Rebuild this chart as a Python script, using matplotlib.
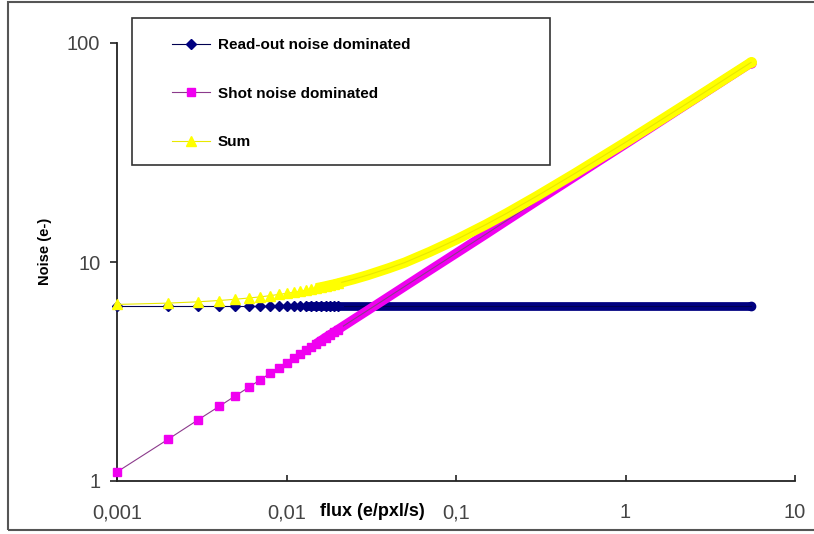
import matplotlib.pyplot as plt
from matplotlib.patches import Rectangle

# flux grid (e/pxl/s) and noise values (e-)
flux = [0.001, 0.002, 0.003, 0.004, 0.005, 0.006, 0.007, 0.008, 0.009, 0.010,
        0.011, 0.012, 0.013, 0.014, 0.015, 0.016, 0.017, 0.018, 0.019, 0.020,
        0.025, 0.03, 0.04, 0.05, 0.07, 0.1, 0.15, 0.2, 0.3, 0.5, 0.7,
        1, 1.5, 2, 3, 4, 5.5]
readout = [6.3] * len(flux)
shot = [1.10, 1.55, 1.90, 2.19, 2.45, 2.68, 2.90, 3.10, 3.29, 3.46,
        3.63, 3.79, 3.95, 4.10, 4.24, 4.38, 4.52, 4.65, 4.77, 4.90,
        5.48, 6.0, 6.93, 7.75, 9.17, 10.95, 13.4, 15.5, 19.0, 24.5, 29.0,
        34.6, 42.4, 49.0, 60.0, 69.3, 81.2]
total = [6.40, 6.49, 6.58, 6.67, 6.76, 6.85, 6.93, 7.02, 7.11, 7.19,
         7.27, 7.35, 7.44, 7.52, 7.60, 7.67, 7.75, 7.83, 7.90, 7.98,
         8.35, 8.70, 9.36, 9.95, 11.12, 12.64, 14.82, 16.72, 20.0, 25.3, 29.7,
         35.2, 42.9, 49.4, 60.3, 69.6, 81.5]

xticks = [0.001, 0.01, 0.1, 1, 10]
xlabels = ["0,001", "0,01", "0,1", "1", "10"]
yticks = [1, 10, 100]
ylabels = ["1", "10", "100"]

W, H = 814, 534
fig = plt.figure(figsize=(W / 100, H / 100), dpi=100)
ax = fig.add_axes([117 / W, 1 - 481 / H, (795 - 117) / W, (481 - 43) / H])

# (values, marker, marker colour, line colour, marker size, band width, band start index, label)
series = [
    (readout, "D", "#000080", "#000050", 5.2, 6.3, 12, "Read-out noise dominated"),
    (shot, "s", "#F000F0", "#8B3A8B", 5.3, 6.8, 14, "Shot noise dominated"),
    (total, "^", "#FFFF00", "#E8E800", 6.8, 7.3, 14, "Sum"),
]
handles = []
for i, (vals, m, mc, lc, ms, bw, start, lab) in enumerate(series):
    z = 3 + i
    # at high flux the markers pack so tightly that they merge into a band
    ax.plot(flux[start:], vals[start:], color=mc, lw=bw, solid_capstyle="butt",
            zorder=z, clip_on=False)
    ax.plot(flux[-1:], vals[-1:], ls="none", marker="o", ms=bw * 0.95, mfc=mc,
            mec=mc, zorder=z, clip_on=False)
    h, = ax.plot(flux, vals, color=lc, lw=0.8, marker=m, ms=ms, mfc=mc, mec=mc,
                 markevery=list(range(20)), zorder=z, clip_on=False, label=lab)
    handles.append(h)

ax.set_xscale("log")
ax.set_yscale("log")
ax.set_xlim(0.001, 10)
ax.set_ylim(1, 100)
ax.minorticks_off()
ax.set_xticks(xticks)
ax.set_xticklabels(xlabels)
ax.set_yticks(yticks)
ax.set_yticklabels(ylabels)
for lab in ax.get_xticklabels() + ax.get_yticklabels():
    lab.set_family("Liberation Sans")
    lab.set_fontsize(14.5)
    lab.set_color("#444444")
ax.tick_params(axis="x", direction="in", length=4, width=1.2, pad=16, color="#222222")
ax.tick_params(axis="y", direction="out", length=5, width=1.2, pad=7, color="#222222")
for s in ["top", "right"]:
    ax.spines[s].set_visible(False)
for s in ["left", "bottom"]:
    ax.spines[s].set_color("#222222")
    ax.spines[s].set_linewidth(1.3)

fig.text(320 / W, 1 - 512 / H, "flux (e/pxl/s)", family="Liberation Sans",
         weight="bold", fontsize=13, va="center", ha="left")
fig.text(45 / W, 1 - 251 / H, "Noise (e-)", family="Liberation Sans",
         weight="bold", fontsize=10.5, rotation=90, va="center", ha="center")

# legend box and outer chart border
fig.patches.append(Rectangle((132 / W, 1 - 165 / H), 418 / W, 147 / H,
                             transform=fig.transFigure, fill=False,
                             ec="#333333", lw=1.2, zorder=10))
fig.patches.append(Rectangle((8 / W, 1 - 530 / H), 1.0, 528 / H,
                             transform=fig.transFigure, fill=False,
                             ec="#555555", lw=1.5))
ax.add_patch(Rectangle((132 / W, 1 - 165 / H), 418 / W, 147 / H,
                       transform=fig.transFigure, fc="white", ec="none",
                       zorder=9, clip_on=False))

leg = fig.legend(handles=handles, loc="upper left",
                 bbox_to_anchor=(172 / W, 1 - 38 / H), frameon=False,
                 borderpad=0, borderaxespad=0, handlelength=2.5,
                 handletextpad=0.5, labelspacing=2.27,
                 prop={"family": "Liberation Sans", "weight": "bold", "size": 11})
leg.set_zorder(11)

fig.savefig("out.png", dpi=100)
